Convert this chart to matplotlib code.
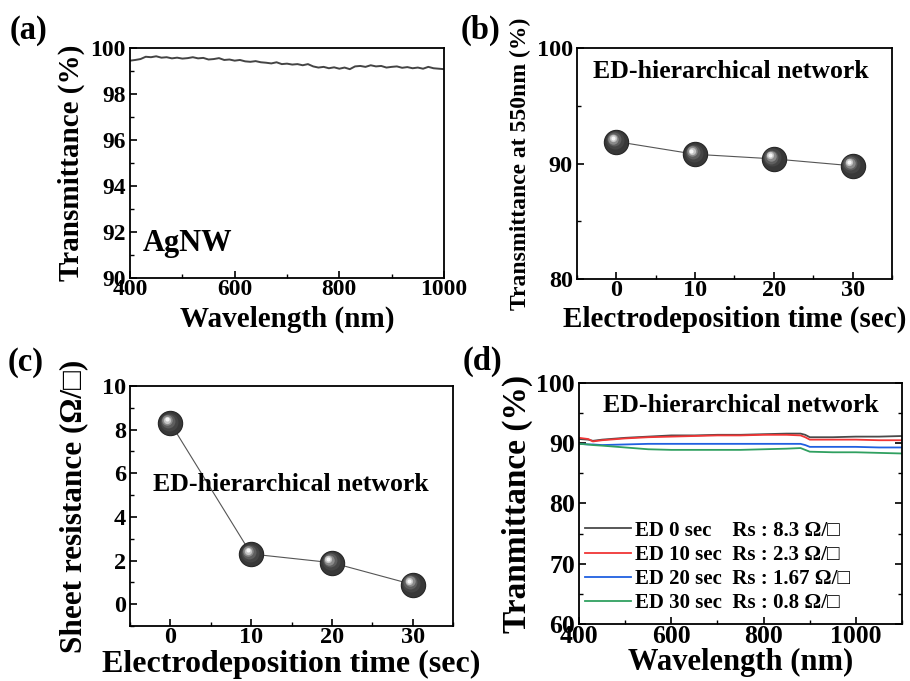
import matplotlib
matplotlib.use("Agg")
import matplotlib.pyplot as plt
import matplotlib.transforms as mtransforms
from matplotlib.ticker import MultipleLocator

plt.rcParams['font.family'] = ['Liberation Serif', 'DejaVu Serif', 'DejaVu Sans']
plt.rcParams['font.weight'] = 'bold'
plt.rcParams['axes.labelweight'] = 'bold'
plt.rcParams['axes.linewidth'] = 1.3

# --- (a) AgNW transmittance spectrum ---
wl_a = list(range(400, 1001, 10))
trans_a = [99.45, 99.48, 99.52, 99.62, 99.60, 99.64, 99.58, 99.60, 99.55, 99.58,
           99.54, 99.56, 99.60, 99.55, 99.57, 99.50, 99.52, 99.56, 99.48, 99.50,
           99.45, 99.48, 99.42, 99.40, 99.43, 99.38, 99.36, 99.33, 99.38, 99.30,
           99.32, 99.28, 99.30, 99.25, 99.30, 99.20, 99.15, 99.18, 99.12, 99.16,
           99.10, 99.15, 99.08, 99.20, 99.22, 99.18, 99.25, 99.20, 99.22, 99.15,
           99.18, 99.20, 99.14, 99.17, 99.12, 99.15, 99.10, 99.18, 99.12, 99.10,
           99.08]

# --- (b) & (c) vs electrodeposition time ---
ed_time = [0, 10, 20, 30]
trans_550 = [91.9, 90.8, 90.4, 89.8]
sheet_res = [8.3, 2.3, 1.9, 0.9]

# --- (d) spectra for each deposition time ---
wl_d = [400, 420, 430, 450, 500, 550, 600, 650, 700, 750, 800, 850, 880, 890, 900, 950, 1000, 1050, 1100]
ed0 = [90.7, 90.6, 90.4, 90.6, 90.9, 91.1, 91.3, 91.3, 91.4, 91.4, 91.5, 91.6, 91.6, 91.4, 91.0, 91.0, 91.1, 91.1, 91.2]
ed10 = [90.9, 90.7, 90.3, 90.5, 90.8, 91.0, 91.1, 91.2, 91.3, 91.3, 91.4, 91.4, 91.3, 91.0, 90.6, 90.6, 90.6, 90.5, 90.5]
ed20 = [89.9, 89.8, 89.8, 89.7, 89.8, 89.9, 89.9, 89.9, 89.9, 89.9, 89.9, 89.9, 89.9, 89.7, 89.4, 89.4, 89.4, 89.3, 89.3]
ed30 = [89.9, 89.8, 89.7, 89.6, 89.3, 89.0, 88.9, 88.9, 88.9, 88.9, 89.0, 89.1, 89.2, 88.9, 88.6, 88.5, 88.5, 88.4, 88.3]
series_d = [ed0, ed10, ed20, ed30]
labels_d = ['ED 0 sec    Rs : 8.3 \u03a9/\u25a1',
            'ED 10 sec  Rs : 2.3 \u03a9/\u25a1',
            'ED 20 sec  Rs : 1.67 \u03a9/\u25a1',
            'ED 30 sec  Rs : 0.8 \u03a9/\u25a1']
colors_d = ['#4a4a4a', '#f03535', '#2060e0', '#30a060']

fig = plt.figure(figsize=(9.10, 6.81), dpi=100)
ax_a = fig.add_axes([0.1429, 0.5918, 0.3450, 0.3377])
ax_b = fig.add_axes([0.6340, 0.5903, 0.3462, 0.3392])
ax_c = fig.add_axes([0.1429, 0.0808, 0.3550, 0.3524])
ax_d = fig.add_axes([0.6363, 0.0837, 0.3550, 0.3539])


def style_ticks(ax, size, right=False):
    ax.tick_params(which='both', direction='in', labelsize=size, right=right)
    ax.tick_params(which='major', length=5, width=1.2)
    ax.tick_params(which='minor', length=3, width=1.0)
    ax.tick_params(axis='x', pad=1)
    ax.tick_params(axis='y', pad=3)


def spheres(ax, x, y):
    # shaded ball markers: dark base plus lighter highlight layers
    ax.plot(x, y, 'o', ms=17.5, mfc='#383838', mec='#262626', mew=0.8, zorder=3)
    layers = [(13, '#454545', 1.0), (10, '#5e5e5e', 1.7), (7.5, '#8a8a8a', 2.2),
              (5.2, '#c4c4c4', 2.5), (3.0, '#f6f6f6', 2.6)]
    for ms, col, off in layers:
        tr = mtransforms.offset_copy(ax.transData, fig=fig, x=-off, y=off, units='points')
        ax.plot(x, y, 'o', ms=ms, mfc=col, mec='none', transform=tr, zorder=4)


# (a)
ax_a.plot(wl_a, trans_a, color='#444444', lw=1.4)
ax_a.set_xlim(400, 1000)
ax_a.set_ylim(90, 100)
ax_a.xaxis.set_major_locator(MultipleLocator(200))
ax_a.xaxis.set_minor_locator(MultipleLocator(100))
ax_a.yaxis.set_major_locator(MultipleLocator(2))
ax_a.yaxis.set_minor_locator(MultipleLocator(1))
style_ticks(ax_a, 17)
ax_a.set_xlabel('Wavelength (nm)', fontsize=21, labelpad=4)
ax_a.set_ylabel('Transmittance (%)', fontsize=21, labelpad=4)
ax_a.text(0.04, 0.15, 'AgNW', transform=ax_a.transAxes, fontsize=22, va='center')

# (b)
ax_b.plot(ed_time, trans_550, color='#555555', lw=0.8, zorder=2)
spheres(ax_b, ed_time, trans_550)
ax_b.set_xlim(-5, 35)
ax_b.set_ylim(80, 100)
ax_b.xaxis.set_major_locator(MultipleLocator(10))
ax_b.xaxis.set_minor_locator(MultipleLocator(5))
ax_b.yaxis.set_major_locator(MultipleLocator(10))
ax_b.yaxis.set_minor_locator(MultipleLocator(5))
style_ticks(ax_b, 17.5)
ax_b.set_xlabel('Electrodeposition time (sec)', fontsize=21, labelpad=3)
ax_b.set_ylabel('Transmittance at 550nm (%)', fontsize=17, labelpad=4)
ax_b.text(0.49, 0.90, 'ED-hierarchical network', transform=ax_b.transAxes,
          fontsize=18.5, ha='center', va='center')

# (c)
ax_c.plot(ed_time, sheet_res, color='#555555', lw=0.8, zorder=2)
spheres(ax_c, ed_time, sheet_res)
ax_c.set_xlim(-5, 35)
ax_c.set_ylim(-1, 10)
ax_c.xaxis.set_major_locator(MultipleLocator(10))
ax_c.xaxis.set_minor_locator(MultipleLocator(5))
ax_c.yaxis.set_major_locator(MultipleLocator(2))
ax_c.yaxis.set_minor_locator(MultipleLocator(1))
style_ticks(ax_c, 17.5)
ax_c.set_xlabel('Electrodeposition time (sec)', fontsize=23, labelpad=1)
ax_c.set_ylabel('Sheet resistance (\u03a9/\u25a1)', fontsize=22.5, labelpad=10)
ax_c.text(0.498, 0.59, 'ED-hierarchical network', transform=ax_c.transAxes,
          fontsize=18.5, ha='center', va='center')

# (d)
for ys, lab, col in zip(series_d, labels_d, colors_d):
    ax_d.plot(wl_d, ys, color=col, lw=1.3, label=lab)
ax_d.set_xlim(400, 1100)
ax_d.set_ylim(60, 100)
ax_d.xaxis.set_major_locator(MultipleLocator(200))
ax_d.xaxis.set_minor_locator(MultipleLocator(100))
ax_d.yaxis.set_major_locator(MultipleLocator(10))
ax_d.yaxis.set_minor_locator(MultipleLocator(5))
style_ticks(ax_d, 18.5, right=True)
ax_d.set_xlabel('Wavelength (nm)', fontsize=22, labelpad=0)
ax_d.set_ylabel('Tranmittance (%)', fontsize=24, labelpad=2)
ax_d.text(0.50, 0.905, 'ED-hierarchical network', transform=ax_d.transAxes,
          fontsize=18.5, ha='center', va='center')
ax_d.legend(loc='lower left', bbox_to_anchor=(0.02, 0.045), frameon=False,
            fontsize=15, handlelength=2.2, handletextpad=0.2, labelspacing=0.2,
            borderpad=0, borderaxespad=0)

# panel letters
for lab, x, y in [('(a)', 0.011, 0.955), ('(b)', 0.506, 0.955),
                  ('(c)', 0.008, 0.468), ('(d)', 0.508, 0.470)]:
    fig.text(x, y, lab, fontsize=23.5, ha='left', va='center')

fig.savefig('out.png', dpi=100)
